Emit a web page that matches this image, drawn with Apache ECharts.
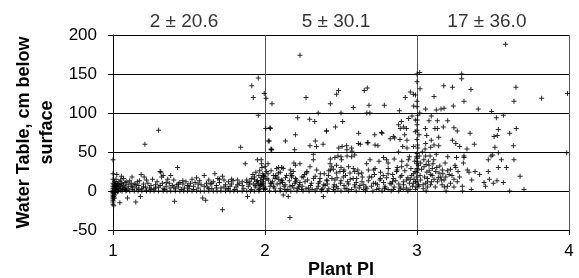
<!DOCTYPE html>
<html>
<head>
<meta charset="utf-8">
<script src="https://cdn.jsdelivr.net/npm/echarts@6/dist/echarts.min.js"></script>
<style>html,body{margin:0;padding:0;background:#fff;}#c{width:579px;height:278px;}</style>
</head>
<body>
<div id="c"></div>
<script>
// Tick labels
const xTicks = [1, 2, 3, 4];
const yTicks = [-50, 0, 50, 100, 150, 200];
// Annotation texts (mean ± sd per Plant PI class) and their anchor values
const annotLabels = ['2 ± 20.6', '5 ± 30.1', '17 ± 36.0'];
const annotX = [1.467, 2.467, 3.46];
const annotY = [217, 217, 217];

// Observations [Plant PI, water table cm below surface], PI 1–2
const zoneA = [
[1.0,40],[1.0,22],[1.0,15],[1.0,10],[1.0,6],[1.0,3],[1.0,1],[1.0,-2],[1.0,-4],[1.0,-6],[1.0,-8],[1.0,-10],[1.0,-12],[1.0,-14],[1.0,-17],[1.005,-19],[1.005,8],[1.005,4],[1.005,-3],[1.005,-7],
[1.01,12],[1.01,6],[1.01,2],[1.01,-1],[1.01,-5],[1.01,-9],[1.015,9],[1.015,3],[1.015,-2],[1.02,5],[1.02,0],[1.02,10],[1.025,21],[1.025,7],[1.025,2],[1.03,4],[1.03,-1],[1.035,8],[1.04,3],[1.04,12],
[1.045,-15],[1.05,6],[1.05,1],[1.055,19],[1.055,10],[1.06,4],[1.065,2],[1.07,16],[1.07,7],[1.075,3],[1.08,11],[1.085,5],[1.09,1],[1.095,-9],[1.1,8],[1.1,3],[1.11,13],[1.12,6],[1.125,18],[1.13,2],
[1.14,9],[1.15,-14],[1.155,4],[1.16,12],[1.17,7],[1.175,13],[1.18,-7],[1.185,21],[1.19,3],[1.2,9],[1.205,18],[1.21,60],[1.215,5],[1.22,1],[1.23,10],[1.24,4],[1.25,7],[1.26,15],[1.27,3],[1.28,8],
[1.29,12],[1.3,78],[1.3,5],[1.31,25],[1.315,24],[1.32,18],[1.325,10],[1.33,20],[1.34,2],[1.35,6],[1.36,15],[1.37,10],[1.375,4],[1.38,20],[1.39,7],[1.4,14],[1.405,-13],[1.41,3],[1.42,8],[1.425,30],
[1.43,5],[1.44,11],[1.45,2],[1.46,9],[1.47,4],[1.48,12],[1.49,7],[1.5,3],[1.51,10],[1.52,15],[1.53,6],[1.54,11],[1.55,17],[1.56,4],[1.57,13],[1.58,8],[1.59,-9],[1.6,20],[1.61,-12],[1.615,10],
[1.62,5],[1.63,14],[1.64,9],[1.65,3],[1.66,12],[1.67,22],[1.68,7],[1.69,16],[1.7,11],[1.71,4],[1.72,-24],[1.72,19],[1.73,14],[1.74,8],[1.75,3],[1.76,12],[1.77,6],[1.78,9],[1.79,13],[1.8,2],
[1.81,5],[1.82,14],[1.83,10],[1.84,56],[1.85,7],[1.86,3],[1.87,35],[1.88,11],[1.885,-7],[1.89,6],[1.9,12],[1.91,2],[1.92,-13],[1.925,9],[1.93,15],[1.94,5],[1.95,40],[1.955,10],[1.96,20],[1.965,3],
[1.97,13],[1.975,40],[1.98,8],[1.985,22],[1.99,15],[1.995,5],[1.913,135],[1.923,120],[1.956,145],[1.956,97],[1.995,125],[1.93,18],[1.945,12],[1.96,8],[1.975,17],[1.99,10],
[1.035,0],[1.06,0],[1.085,0],[1.11,0],[1.14,0],[1.165,0],[1.19,0],[1.22,0],[1.245,0],[1.27,0],[1.3,0],[1.33,0],[1.355,0],[1.38,0],[1.41,0],[1.44,0],[1.465,0],[1.49,0],[1.52,0],[1.55,0],
[1.575,0],[1.6,0],[1.63,0],[1.66,0],[1.685,0],[1.71,0],[1.74,0],[1.77,0],[1.795,0],[1.82,0],[1.85,0],[1.88,0],[1.905,0],[1.93,0],[1.96,0],
[1.88,14],[1.9,9],[1.91,16],[1.92,21],[1.935,7],[1.94,24],[1.95,13],[1.96,2],[1.965,26],[1.97,7],[1.98,30],[1.985,12],[1.99,3],[1.995,19],
[1.02,15],[1.03,9],[1.04,6],[1.05,14],[1.06,9],[1.08,2],[1.09,12],[1.12,10],[1.13,5],[1.15,8],[1.17,2],[1.2,5],[1.22,14],[1.25,2],[1.28,4],[1.31,7],[1.33,3],[1.35,11],[1.4,5],[1.43,9],
[1.46,13],[1.5,6],[1.53,2],[1.56,9],[1.6,6],[1.63,3],[1.65,10],[1.68,4],[1.7,15],[1.73,5],[1.76,3],[1.78,15],[1.82,8],[1.85,12]
];

// PI 2–3
const zoneB = [
[2.23,174],[2.007,119],[2.046,112],[2.27,120],[2.43,112],[2.471,124],[2.484,129],[2.653,129],[2.673,132],[2.581,107],[2.684,110],[2.785,110],[2.923,120],[2.976,124],[2.956,127],[2.99,123],[2.978,109],[2.884,103],[2.35,100],[2.5,100],
[2.67,100],[2.69,100],[2.005,80],[2.033,81],[2.022,64],[2.04,54],[2.215,94],[2.294,92],[2.327,89],[2.035,80],[2.511,89],[2.463,82],[2.404,77],[2.2,72],[2.028,64],[2.134,64],[2.195,53],[2.041,53],[2.331,64],[2.338,57],
[2.382,60],[2.485,55],[2.507,57],[2.539,53],[2.572,51],[2.616,74],[2.627,60],[2.678,62],[2.743,58],[2.722,72],[2.77,74],[2.824,67],[2.853,68],[2.897,89],[2.89,80],[2.879,85],[2.912,82],[2.93,80],[2.919,72],[2.934,65],
[2.945,93],[2.967,96],[2.989,91],[2.989,76],[2.906,57],[2.934,55],[2.978,57],[2.879,50],[2.296,58],[2.318,47],[2.405,77],[2.537,58],[2.57,55],[2.614,61],[2.673,62],[2.724,59],[2.767,75],[2.844,70],[2.888,66],[2.044,53],
[1.978,35],[2.0,31],[2.011,25],[1.989,18],[2.022,14],[2.044,10],[1.978,8],[2.066,16],[2.088,23],[2.077,29],[2.055,20],[2.033,6],[2.0,2],[2.099,10],[2.153,-7],[2.164,-34],[2.384,-7],[2.12,-5],
[2.12,29],[2.142,20],[2.175,18],[2.186,25],[2.208,14],[2.226,8],[2.241,2],[2.263,12],[2.274,23],[2.296,31],[2.285,4],[2.164,6],[2.131,2],[2.197,10],[2.252,18],[2.11,14],
[2.318,40],[2.34,27],[2.362,16],[2.373,2],[2.395,7],[2.417,20],[2.439,31],[2.46,14],[2.471,6],[2.493,25],[2.504,40],[2.515,18],[2.406,14],[2.45,2],[2.351,10],[2.428,35],
[2.526,3],[2.542,12],[2.559,23],[2.581,29],[2.603,16],[2.625,7],[2.647,2],[2.669,35],[2.68,27],[2.702,18],[2.713,10],[2.735,2],[2.636,23],[2.592,5],[2.691,40],[2.724,29],
[2.756,14],[2.778,20],[2.789,4],[2.811,29],[2.822,10],[2.844,16],[2.866,25],[2.888,5],[2.899,31],[2.91,2],[2.932,14],[2.943,40],[2.965,20],[2.976,10],[2.987,25],[2.998,35],[2.844,2],[2.8,40],[2.954,2],
[1.991,20],[2.013,16],[2.035,10],[2.057,6],[2.002,3],[2.079,18],[2.112,13],[2.133,8],[2.166,27],[2.177,20],[2.2,12],[2.221,5],[2.243,18],[2.276,25],[2.305,10],[2.32,16],[2.342,3],[2.364,22],[2.386,8],[2.408,13],
[2.43,27],[2.452,5],[2.474,17],[2.496,10],[2.517,25],[2.539,3],[2.561,15],[2.59,8],[2.616,22],[2.638,12],[2.664,5],[2.686,18],[2.715,27],[2.728,10],[2.759,16],[2.787,3],[2.81,22],[2.839,12],[2.869,27],[2.89,18],
[2.912,8],[2.934,33],[2.956,15],[2.978,22],[2.993,5],[3.0,29],
[2.03,0],[2.07,0],[2.1,0],[2.14,0],[2.17,0],[2.21,0],[2.25,0],[2.29,0],[2.33,0],[2.37,0],[2.41,0],[2.46,0],[2.5,0],[2.55,0],[2.6,0],[2.66,0],[2.71,0],[2.77,0],[2.83,0],[2.88,0],[2.94,0],
[2.02,22],[2.04,26],[2.05,12],[2.06,4],[2.07,20],[2.08,9],[2.09,15],[2.1,3],[2.1,24],[2.115,11],[2.125,6],[2.135,17],[2.15,2],[2.16,13],[2.17,22],[2.18,7],[2.19,4],[2.2,16],[2.215,3],[2.23,11],
[2.245,6],[2.26,21],[2.27,3],[2.28,14],[2.3,7],[2.31,2],[2.33,19],[2.35,6],[2.36,12],[2.38,3],[2.39,22],[2.41,9],[2.42,3],[2.44,16],[2.455,8],[2.47,23],[2.48,3],[2.5,13],[2.52,7],[2.53,20],
[2.55,9],[2.57,2],[2.58,16],[2.6,11],[2.61,27],[2.62,4],[2.64,18],[2.65,8],[2.67,3],[2.68,13],[2.7,6],[2.72,21],[2.74,8],[2.75,3],[2.76,24],[2.78,11],[2.79,6],[2.8,17],[2.81,2],[2.83,9],
[2.84,21],[2.85,5],[2.86,13],[2.87,30],[2.88,9],[2.89,3],[2.9,20],[2.91,12],[2.92,26],[2.93,4],[2.94,17],[2.95,10],[2.96,29],[2.97,6],[2.98,15],[2.985,38],[2.99,12],[2.995,44],
[2.43,41],[2.46,43],[2.48,45],[2.5,44],[2.54,45],[2.57,44],[2.59,46],[2.19,36],[2.2,33],[2.23,35],[2.09,30],[2.11,30],[2.02,35],[2.75,38],[2.78,43],[2.81,36],[2.85,41],[2.9,38],[2.95,44],[2.47,33],
[2.5,30],[2.45,28],[2.42,26],[2.52,27],[2.55,31],[2.59,25]
];

// PI 3–4
const zoneC = [
[3.583,188],[3.018,152],[3.294,150],[3.294,144],[3.02,131],[3.176,135],[3.233,133],[3.355,130],[3.651,133],[3.112,121],[3.309,115],[3.638,115],[3.82,119],[3.99,125],[3.239,109],[3.057,105],[3.127,104],[3.158,105],[3.178,106],[3.403,105],
[3.491,102],[3.568,97],[3.522,94],[3.018,100],[3.002,91],[3.079,90],[3.134,90],[3.202,90],[3.094,96],[3.055,80],[3.118,80],[3.134,80],[3.173,82],[3.243,81],[3.265,77],[3.349,74],[3.535,79],[3.653,80],[3.61,74],[3.507,70],
[3.528,71],[3.013,72],[3.064,71],[3.094,65],[3.143,69],[3.057,61],[3.112,59],[3.004,59],[3.233,65],[3.255,61],[3.281,57],[3.329,54],[3.377,60],[3.513,56],[3.634,58],[3.143,58],[3.09,56],[3.053,54],[3.535,49],[3.985,49],
[3.057,45],[3.086,45],[3.127,47],[3.202,44],[3.26,43],[3.309,45],[3.309,43],[3.487,45],[3.498,46],[3.469,40],[3.555,40],[3.638,40],[3.305,36],[3.255,30],[3.331,27],[3.342,24],[3.382,25],[3.412,21],[3.469,25],[3.535,30],
[3.588,30],[3.678,19],[3.526,13],[3.502,10],[3.568,11],[3.441,11],[3.476,15],[3.704,2],[3.357,2],[3.298,6],[3.243,5],[3.191,0],
[3.002,38],[3.024,36],[3.046,31],[3.079,33],[3.101,29],[3.123,25],[3.145,23],[3.167,27],[3.09,21],[3.068,16],[3.112,15],[3.134,12],[3.156,18],[3.189,18],[3.211,21],[3.006,27],[2.998,18],[3.024,14],[3.057,10],[3.09,8],
[3.013,6],[3.041,3],[2.991,2],[3.068,5],[3.178,14],[3.221,10],[3.243,15],[3.265,12],[3.2,6],
[3.0,150],[3.0,140],[3.0,115],[3.0,108],[3.0,85],[3.0,78],[3.0,66],[3.0,48],[3.0,42],[3.0,24],[3.0,12],[3.005,97],[3.005,55],[3.01,33],[3.01,8],
[3.015,45],[3.035,50],[3.045,40],[3.065,24],[3.075,38],[3.095,12],[3.105,35],[3.12,5],[3.15,32],[3.165,8],[3.185,36],[3.22,28],[3.28,18],[3.36,14],[3.45,6],[3.06,0],[3.3,0],[3.61,0],
[3.02,20],[3.03,28],[3.04,8],[3.05,18],[3.06,34],[3.07,12],[3.08,26],[3.1,20],[3.11,40],[3.13,30],[3.14,17],[3.16,14],[3.17,22],[3.18,5],[3.2,26],[3.23,20],[3.25,33],[3.27,25]
];

const chart = echarts.init(document.getElementById('c'), null, {renderer: 'canvas'});
const FONT = 'Liberation Sans, Arial, sans-serif';
const plus = 'path://M2,0H3V2H5V3H3V5H2V3H0V2H2Z';
function pts(arr) { return arr.map(p => [p[0], p[1]]); }
const markStyle = {color: '#000', opacity: 0.85};

chart.setOption({
  animation: false,
  backgroundColor: '#fff',
  grid: {left: 113, right: 10, top: 35, bottom: 48, containLabel: false, outerBoundsMode: 'none'},
  xAxis: {
    type: 'value', min: xTicks[0], max: xTicks[xTicks.length - 1], interval: 1,
    name: 'Plant PI', nameLocation: 'middle', nameGap: 31, nameMoveOverlap: false,
    nameTextStyle: {fontFamily: FONT, fontWeight: 'bold', fontSize: 18, color: '#000'},
    axisLine: {show: true, onZero: false, lineStyle: {color: '#000', width: 1}},
    axisTick: {show: true, length: 5, lineStyle: {color: '#000'}},
    axisLabel: {fontFamily: FONT, fontSize: 17, color: '#000', margin: 13},
    splitLine: {show: true, lineStyle: {color: '#555', width: 1}}
  },
  yAxis: {
    type: 'value', min: yTicks[0], max: yTicks[yTicks.length - 1], interval: 50,
    name: 'Water Table, cm below\nsurface', nameLocation: 'middle', nameGap: 54, nameRotate: 90, nameMoveOverlap: false,
    nameTextStyle: {fontFamily: FONT, fontWeight: 'bold', fontSize: 18, color: '#000', lineHeight: 23, align: 'center'},
    axisLine: {show: true, onZero: false, lineStyle: {color: '#000', width: 1}},
    axisTick: {show: true, length: 5, lineStyle: {color: '#000'}},
    axisLabel: {fontFamily: FONT, fontSize: 17, color: '#000', margin: 16},
    splitLine: {show: true, lineStyle: {color: '#000', width: 1}}
  },
  series: [
    {type: 'scatter', data: pts(zoneA), symbol: plus, symbolSize: 5, itemStyle: markStyle, silent: true},
    {type: 'scatter', data: pts(zoneB), symbol: plus, symbolSize: 5, itemStyle: markStyle, silent: true},
    {type: 'scatter', data: pts(zoneC), symbol: plus, symbolSize: 5, itemStyle: markStyle, silent: true},
    {
      type: 'scatter', clip: false, symbolSize: 0, silent: true,
      data: annotLabels.map((t, i) => ({value: [annotX[i], annotY[i]], name: t})),
      label: {show: true, position: 'inside', formatter: p => p.name,
        fontFamily: FONT, fontSize: 19, color: '#000'}
    }
  ]
});
</script>
</body>
</html>
